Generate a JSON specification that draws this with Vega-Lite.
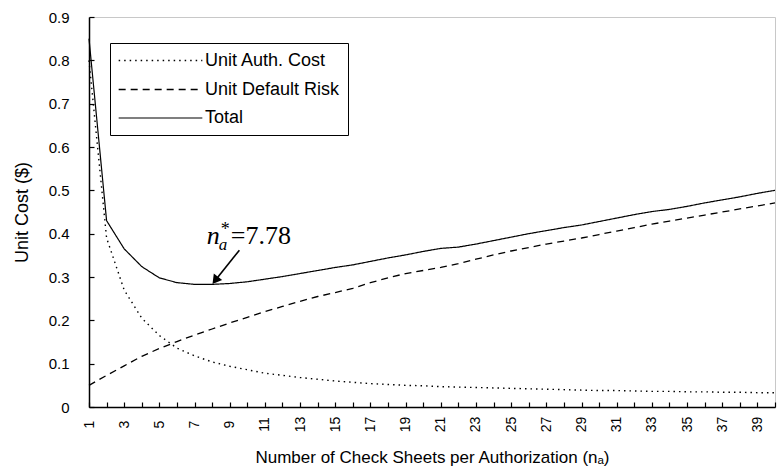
{
  "$schema": "https://vega.github.io/schema/vega-lite/v6.json",
  "width": 686,
  "height": 390,
  "autosize": {"type": "none"},
  "padding": {"left": 89, "top": 17, "right": 4, "bottom": 66},
  "background": "white",
  "config": {
    "view": {"stroke": "#c8c8c8", "strokeWidth": 1},
    "font": "Liberation Sans",
    "axis": {"grid": false, "domainColor": "black", "domainWidth": 1.5, "tickColor": "black", "tickWidth": 1.2, "labelColor": "black", "titleColor": "black", "labelFont": "Liberation Sans", "titleFont": "Liberation Sans", "titleFontWeight": "normal"}
  },
  "resolve": {"axis": {"x": "independent"}},
  "datasets": {
    "costs": [
      {"n": 1, "auth": 0.80, "risk": 0.050, "total": 0.85},
      {"n": 2, "auth": 0.39, "risk": 0.073, "total": 0.43},
      {"n": 3, "auth": 0.27, "risk": 0.095, "total": 0.365},
      {"n": 4, "auth": 0.205, "risk": 0.117, "total": 0.324},
      {"n": 5, "auth": 0.165, "risk": 0.135, "total": 0.298},
      {"n": 6, "auth": 0.136, "risk": 0.151, "total": 0.287},
      {"n": 7, "auth": 0.118, "risk": 0.166, "total": 0.283},
      {"n": 8, "auth": 0.104, "risk": 0.180, "total": 0.283},
      {"n": 9, "auth": 0.094, "risk": 0.194, "total": 0.285},
      {"n": 10, "auth": 0.086, "risk": 0.207, "total": 0.289},
      {"n": 11, "auth": 0.078, "risk": 0.220, "total": 0.295},
      {"n": 12, "auth": 0.073, "risk": 0.232, "total": 0.301},
      {"n": 13, "auth": 0.068, "risk": 0.244, "total": 0.308},
      {"n": 14, "auth": 0.064, "risk": 0.255, "total": 0.315},
      {"n": 15, "auth": 0.060, "risk": 0.264, "total": 0.322},
      {"n": 16, "auth": 0.057, "risk": 0.274, "total": 0.328},
      {"n": 17, "auth": 0.054, "risk": 0.287, "total": 0.336},
      {"n": 18, "auth": 0.052, "risk": 0.298, "total": 0.344},
      {"n": 19, "auth": 0.050, "risk": 0.308, "total": 0.351},
      {"n": 20, "auth": 0.049, "risk": 0.315, "total": 0.359},
      {"n": 21, "auth": 0.047, "risk": 0.322, "total": 0.366},
      {"n": 22, "auth": 0.046, "risk": 0.331, "total": 0.369},
      {"n": 23, "auth": 0.045, "risk": 0.341, "total": 0.376},
      {"n": 24, "auth": 0.044, "risk": 0.351, "total": 0.384},
      {"n": 25, "auth": 0.043, "risk": 0.360, "total": 0.392},
      {"n": 26, "auth": 0.042, "risk": 0.368, "total": 0.400},
      {"n": 27, "auth": 0.041, "risk": 0.376, "total": 0.407},
      {"n": 28, "auth": 0.040, "risk": 0.383, "total": 0.414},
      {"n": 29, "auth": 0.039, "risk": 0.390, "total": 0.420},
      {"n": 30, "auth": 0.038, "risk": 0.398, "total": 0.428},
      {"n": 31, "auth": 0.038, "risk": 0.406, "total": 0.436},
      {"n": 32, "auth": 0.037, "risk": 0.414, "total": 0.444},
      {"n": 33, "auth": 0.036, "risk": 0.422, "total": 0.451},
      {"n": 34, "auth": 0.036, "risk": 0.429, "total": 0.456},
      {"n": 35, "auth": 0.035, "risk": 0.436, "total": 0.463},
      {"n": 36, "auth": 0.035, "risk": 0.443, "total": 0.471},
      {"n": 37, "auth": 0.034, "risk": 0.450, "total": 0.478},
      {"n": 38, "auth": 0.034, "risk": 0.457, "total": 0.485},
      {"n": 39, "auth": 0.033, "risk": 0.464, "total": 0.493},
      {"n": 40, "auth": 0.033, "risk": 0.471, "total": 0.500}
    ],
    "label": [{"x": 7.7, "y": 0.376}],
    "arrow": [{"x": 9.55, "y": 0.362, "x2": 8.23, "y2": 0.295}]
  },
  "layer": [
    {
      "data": {"name": "costs"},
      "transform": [{"fold": ["auth", "risk", "total"], "as": ["series", "value"]}],
      "mark": {"type": "line", "color": "black", "strokeCap": "butt"},
      "encoding": {
        "x": {
          "field": "n", "type": "quantitative",
          "scale": {"domain": [1, 40], "nice": false, "zero": false},
          "axis": {
            "orient": "bottom",
            "title": "Number of Check Sheets per Authorization (nₐ)",
            "titleFontSize": 17, "titlePadding": 18,
            "values": [1,3,5,7,9,11,13,15,17,19,21,23,25,27,29,31,33,35,37,39],
            "labelAngle": -90, "labelAlign": "center", "labelBaseline": "middle",
            "labelFontSize": 14, "labelPadding": 22, "tickSize": -5, "labelOverlap": false, "labelSeparation": 0
          }
        },
        "y": {
          "field": "value", "type": "quantitative",
          "scale": {"domain": [0, 0.9], "nice": false},
          "axis": {
            "title": "Unit Cost ($)", "titleFontSize": 18, "titlePadding": 17,
            "values": [0, 0.1, 0.2, 0.3, 0.4, 0.5, 0.6, 0.7, 0.8, 0.9],
            "labelExpr": "datum.value == 0 ? '0' : format(datum.value, '.1f')",
            "labelFontSize": 15, "labelPadding": 25, "tickSize": -5
          }
        },
        "strokeDash": {
          "field": "series", "type": "nominal",
          "scale": {"domain": ["auth", "risk", "total"], "range": [[1.5, 4], [7, 5], [1, 0]]},
          "legend": {
            "orient": "none", "legendX": 21, "legendY": 26, "title": null,
            "symbolType": "M-5,0H5", "symbolSize": 280, "symbolStrokeColor": "black", "symbolOffset": 33,
            "labelFont": "Liberation Sans", "labelFontSize": 18, "labelColor": "black",
            "strokeColor": "black", "fillColor": "white", "padding": 8, "rowPadding": 10, "labelOffset": 35,
            "labelExpr": "datum.value == 'auth' ? 'Unit Auth. Cost' : datum.value == 'risk' ? 'Unit Default Risk' : 'Total'"
          }
        },
        "strokeWidth": {
          "field": "series", "type": "nominal",
          "scale": {"domain": ["auth", "risk", "total"], "range": [1.4, 1.2, 2]}
        }
      }
    },
    {
      "data": {"name": "arrow"},
      "mark": {"type": "rule", "color": "black", "strokeWidth": 1.6},
      "encoding": {
        "x": {
          "field": "x", "type": "quantitative",
          "axis": {
            "orient": "bottom", "title": null, "labels": false, "domain": false,
            "values": [2,4,6,8,10,12,14,16,18,20,22,24,26,28,30,32,34,36,38,40],
            "tickSize": -5
          }
        },
        "y": {"field": "y", "type": "quantitative"},
        "x2": {"field": "x2"},
        "y2": {"field": "y2"}
      }
    },
    {
      "data": {"name": "arrow"},
      "mark": {"type": "point", "shape": "triangle", "filled": true, "color": "black", "size": 110, "angle": 217, "opacity": 1},
      "encoding": {
        "x": {"field": "x2", "type": "quantitative", "axis": null},
        "y": {"field": "y2", "type": "quantitative"}
      }
    },
    {
      "data": {"name": "label"},
      "mark": {"type": "text", "text": "n", "font": "Liberation Serif", "fontStyle": "italic", "fontSize": 26, "align": "left", "baseline": "alphabetic", "color": "black"},
      "encoding": {"x": {"field": "x", "type": "quantitative", "axis": null}, "y": {"field": "y", "type": "quantitative"}}
    },
    {
      "data": {"name": "label"},
      "mark": {"type": "text", "text": "a", "font": "Liberation Serif", "fontStyle": "italic", "fontSize": 17, "align": "left", "baseline": "alphabetic", "dx": 12, "dy": 6, "color": "black"},
      "encoding": {"x": {"field": "x", "type": "quantitative", "axis": null}, "y": {"field": "y", "type": "quantitative"}}
    },
    {
      "data": {"name": "label"},
      "mark": {"type": "text", "text": "*", "font": "Liberation Serif", "fontSize": 18, "align": "left", "baseline": "alphabetic", "dx": 14, "dy": -9, "color": "black"},
      "encoding": {"x": {"field": "x", "type": "quantitative", "axis": null}, "y": {"field": "y", "type": "quantitative"}}
    },
    {
      "data": {"name": "label"},
      "mark": {"type": "text", "text": "=7.78", "font": "Liberation Serif", "fontSize": 26, "align": "left", "baseline": "alphabetic", "dx": 24, "color": "black"},
      "encoding": {"x": {"field": "x", "type": "quantitative", "axis": null}, "y": {"field": "y", "type": "quantitative"}}
    }
  ]
}
